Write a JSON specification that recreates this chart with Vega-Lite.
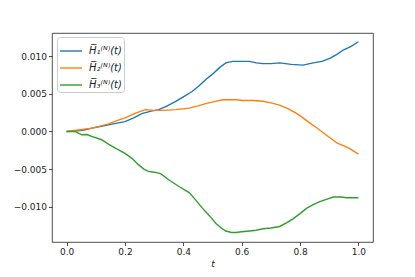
{
  "$schema": "https://vega.github.io/schema/vega-lite/v6.json",
  "autosize": "none",
  "width": 321,
  "height": 209,
  "padding": {"left": 52, "top": 33, "right": 42, "bottom": 35},
  "background": "white",
  "config": {
    "view": {"stroke": "#222222", "strokeWidth": 0.8},
    "font": "DejaVu Sans",
    "axis": {
      "grid": false,
      "domain": false,
      "tickColor": "#222222",
      "tickSize": 3.5,
      "tickWidth": 0.8,
      "labelFont": "DejaVu Sans",
      "labelFontSize": 9,
      "labelColor": "#222222",
      "labelPadding": 2
    }
  },
  "datasets": {
    "curves": [
      {"t": 0, "v": 0, "s": "H̅₁⁽ᴺ⁾(t)"},
      {"t": 0.03, "v": 0.00005, "s": "H̅₁⁽ᴺ⁾(t)"},
      {"t": 0.06, "v": 0.0002, "s": "H̅₁⁽ᴺ⁾(t)"},
      {"t": 0.087, "v": 0.00045, "s": "H̅₁⁽ᴺ⁾(t)"},
      {"t": 0.12, "v": 0.0007, "s": "H̅₁⁽ᴺ⁾(t)"},
      {"t": 0.16, "v": 0.001, "s": "H̅₁⁽ᴺ⁾(t)"},
      {"t": 0.2, "v": 0.0013, "s": "H̅₁⁽ᴺ⁾(t)"},
      {"t": 0.23, "v": 0.0018, "s": "H̅₁⁽ᴺ⁾(t)"},
      {"t": 0.26, "v": 0.0024, "s": "H̅₁⁽ᴺ⁾(t)"},
      {"t": 0.29, "v": 0.0027, "s": "H̅₁⁽ᴺ⁾(t)"},
      {"t": 0.316, "v": 0.0029, "s": "H̅₁⁽ᴺ⁾(t)"},
      {"t": 0.345, "v": 0.0034, "s": "H̅₁⁽ᴺ⁾(t)"},
      {"t": 0.374, "v": 0.004, "s": "H̅₁⁽ᴺ⁾(t)"},
      {"t": 0.4, "v": 0.0046, "s": "H̅₁⁽ᴺ⁾(t)"},
      {"t": 0.43, "v": 0.0053, "s": "H̅₁⁽ᴺ⁾(t)"},
      {"t": 0.455, "v": 0.0061, "s": "H̅₁⁽ᴺ⁾(t)"},
      {"t": 0.477, "v": 0.0069, "s": "H̅₁⁽ᴺ⁾(t)"},
      {"t": 0.5, "v": 0.0076, "s": "H̅₁⁽ᴺ⁾(t)"},
      {"t": 0.525, "v": 0.0085, "s": "H̅₁⁽ᴺ⁾(t)"},
      {"t": 0.546, "v": 0.0091, "s": "H̅₁⁽ᴺ⁾(t)"},
      {"t": 0.569, "v": 0.0093, "s": "H̅₁⁽ᴺ⁾(t)"},
      {"t": 0.6, "v": 0.0093, "s": "H̅₁⁽ᴺ⁾(t)"},
      {"t": 0.627, "v": 0.0093, "s": "H̅₁⁽ᴺ⁾(t)"},
      {"t": 0.65, "v": 0.0091, "s": "H̅₁⁽ᴺ⁾(t)"},
      {"t": 0.673, "v": 0.009, "s": "H̅₁⁽ᴺ⁾(t)"},
      {"t": 0.7, "v": 0.009, "s": "H̅₁⁽ᴺ⁾(t)"},
      {"t": 0.73, "v": 0.0091, "s": "H̅₁⁽ᴺ⁾(t)"},
      {"t": 0.77, "v": 0.0089, "s": "H̅₁⁽ᴺ⁾(t)"},
      {"t": 0.81, "v": 0.0088, "s": "H̅₁⁽ᴺ⁾(t)"},
      {"t": 0.845, "v": 0.0091, "s": "H̅₁⁽ᴺ⁾(t)"},
      {"t": 0.875, "v": 0.0093, "s": "H̅₁⁽ᴺ⁾(t)"},
      {"t": 0.902, "v": 0.0097, "s": "H̅₁⁽ᴺ⁾(t)"},
      {"t": 0.925, "v": 0.0102, "s": "H̅₁⁽ᴺ⁾(t)"},
      {"t": 0.948, "v": 0.0108, "s": "H̅₁⁽ᴺ⁾(t)"},
      {"t": 0.975, "v": 0.0113, "s": "H̅₁⁽ᴺ⁾(t)"},
      {"t": 1.0, "v": 0.0119, "s": "H̅₁⁽ᴺ⁾(t)"},
      {"t": 0, "v": 0, "s": "H̅₂⁽ᴺ⁾(t)"},
      {"t": 0.04, "v": 0.0002, "s": "H̅₂⁽ᴺ⁾(t)"},
      {"t": 0.087, "v": 0.00045, "s": "H̅₂⁽ᴺ⁾(t)"},
      {"t": 0.115, "v": 0.0007, "s": "H̅₂⁽ᴺ⁾(t)"},
      {"t": 0.144, "v": 0.001, "s": "H̅₂⁽ᴺ⁾(t)"},
      {"t": 0.17, "v": 0.0014, "s": "H̅₂⁽ᴺ⁾(t)"},
      {"t": 0.2, "v": 0.0018, "s": "H̅₂⁽ᴺ⁾(t)"},
      {"t": 0.235, "v": 0.0024, "s": "H̅₂⁽ᴺ⁾(t)"},
      {"t": 0.27, "v": 0.0029, "s": "H̅₂⁽ᴺ⁾(t)"},
      {"t": 0.3, "v": 0.0028, "s": "H̅₂⁽ᴺ⁾(t)"},
      {"t": 0.33, "v": 0.0028, "s": "H̅₂⁽ᴺ⁾(t)"},
      {"t": 0.374, "v": 0.0029, "s": "H̅₂⁽ᴺ⁾(t)"},
      {"t": 0.42, "v": 0.0031, "s": "H̅₂⁽ᴺ⁾(t)"},
      {"t": 0.45, "v": 0.0034, "s": "H̅₂⁽ᴺ⁾(t)"},
      {"t": 0.477, "v": 0.0037, "s": "H̅₂⁽ᴺ⁾(t)"},
      {"t": 0.51, "v": 0.004, "s": "H̅₂⁽ᴺ⁾(t)"},
      {"t": 0.535, "v": 0.0042, "s": "H̅₂⁽ᴺ⁾(t)"},
      {"t": 0.58, "v": 0.0042, "s": "H̅₂⁽ᴺ⁾(t)"},
      {"t": 0.603, "v": 0.0041, "s": "H̅₂⁽ᴺ⁾(t)"},
      {"t": 0.64, "v": 0.0041, "s": "H̅₂⁽ᴺ⁾(t)"},
      {"t": 0.673, "v": 0.004, "s": "H̅₂⁽ᴺ⁾(t)"},
      {"t": 0.7, "v": 0.0038, "s": "H̅₂⁽ᴺ⁾(t)"},
      {"t": 0.73, "v": 0.0035, "s": "H̅₂⁽ᴺ⁾(t)"},
      {"t": 0.76, "v": 0.003, "s": "H̅₂⁽ᴺ⁾(t)"},
      {"t": 0.788, "v": 0.0024, "s": "H̅₂⁽ᴺ⁾(t)"},
      {"t": 0.81, "v": 0.0018, "s": "H̅₂⁽ᴺ⁾(t)"},
      {"t": 0.834, "v": 0.0011, "s": "H̅₂⁽ᴺ⁾(t)"},
      {"t": 0.857, "v": 0.0005, "s": "H̅₂⁽ᴺ⁾(t)"},
      {"t": 0.88, "v": -0.0002, "s": "H̅₂⁽ᴺ⁾(t)"},
      {"t": 0.905, "v": -0.0009, "s": "H̅₂⁽ᴺ⁾(t)"},
      {"t": 0.926, "v": -0.0015, "s": "H̅₂⁽ᴺ⁾(t)"},
      {"t": 0.95, "v": -0.0019, "s": "H̅₂⁽ᴺ⁾(t)"},
      {"t": 0.972, "v": -0.0023, "s": "H̅₂⁽ᴺ⁾(t)"},
      {"t": 1.0, "v": -0.003, "s": "H̅₂⁽ᴺ⁾(t)"},
      {"t": 0, "v": 0, "s": "H̅₃⁽ᴺ⁾(t)"},
      {"t": 0.029, "v": 0, "s": "H̅₃⁽ᴺ⁾(t)"},
      {"t": 0.052, "v": -0.00044, "s": "H̅₃⁽ᴺ⁾(t)"},
      {"t": 0.07, "v": -0.0004, "s": "H̅₃⁽ᴺ⁾(t)"},
      {"t": 0.086, "v": -0.00066, "s": "H̅₃⁽ᴺ⁾(t)"},
      {"t": 0.12, "v": -0.0011, "s": "H̅₃⁽ᴺ⁾(t)"},
      {"t": 0.145, "v": -0.0017, "s": "H̅₃⁽ᴺ⁾(t)"},
      {"t": 0.167, "v": -0.0022, "s": "H̅₃⁽ᴺ⁾(t)"},
      {"t": 0.2, "v": -0.0029, "s": "H̅₃⁽ᴺ⁾(t)"},
      {"t": 0.225, "v": -0.0036, "s": "H̅₃⁽ᴺ⁾(t)"},
      {"t": 0.246, "v": -0.0044, "s": "H̅₃⁽ᴺ⁾(t)"},
      {"t": 0.265, "v": -0.005, "s": "H̅₃⁽ᴺ⁾(t)"},
      {"t": 0.28, "v": -0.0053, "s": "H̅₃⁽ᴺ⁾(t)"},
      {"t": 0.3, "v": -0.0054, "s": "H̅₃⁽ᴺ⁾(t)"},
      {"t": 0.322, "v": -0.0056, "s": "H̅₃⁽ᴺ⁾(t)"},
      {"t": 0.35, "v": -0.0064, "s": "H̅₃⁽ᴺ⁾(t)"},
      {"t": 0.385, "v": -0.0073, "s": "H̅₃⁽ᴺ⁾(t)"},
      {"t": 0.42, "v": -0.0081, "s": "H̅₃⁽ᴺ⁾(t)"},
      {"t": 0.445, "v": -0.0092, "s": "H̅₃⁽ᴺ⁾(t)"},
      {"t": 0.466, "v": -0.0102, "s": "H̅₃⁽ᴺ⁾(t)"},
      {"t": 0.49, "v": -0.0112, "s": "H̅₃⁽ᴺ⁾(t)"},
      {"t": 0.512, "v": -0.0122, "s": "H̅₃⁽ᴺ⁾(t)"},
      {"t": 0.53, "v": -0.0128, "s": "H̅₃⁽ᴺ⁾(t)"},
      {"t": 0.546, "v": -0.0132, "s": "H̅₃⁽ᴺ⁾(t)"},
      {"t": 0.565, "v": -0.0134, "s": "H̅₃⁽ᴺ⁾(t)"},
      {"t": 0.58, "v": -0.0134, "s": "H̅₃⁽ᴺ⁾(t)"},
      {"t": 0.6, "v": -0.0133, "s": "H̅₃⁽ᴺ⁾(t)"},
      {"t": 0.627, "v": -0.0132, "s": "H̅₃⁽ᴺ⁾(t)"},
      {"t": 0.65, "v": -0.0131, "s": "H̅₃⁽ᴺ⁾(t)"},
      {"t": 0.673, "v": -0.0129, "s": "H̅₃⁽ᴺ⁾(t)"},
      {"t": 0.7, "v": -0.0128, "s": "H̅₃⁽ᴺ⁾(t)"},
      {"t": 0.73, "v": -0.0126, "s": "H̅₃⁽ᴺ⁾(t)"},
      {"t": 0.755, "v": -0.0121, "s": "H̅₃⁽ᴺ⁾(t)"},
      {"t": 0.776, "v": -0.0116, "s": "H̅₃⁽ᴺ⁾(t)"},
      {"t": 0.8, "v": -0.0109, "s": "H̅₃⁽ᴺ⁾(t)"},
      {"t": 0.822, "v": -0.0102, "s": "H̅₃⁽ᴺ⁾(t)"},
      {"t": 0.845, "v": -0.0097, "s": "H̅₃⁽ᴺ⁾(t)"},
      {"t": 0.868, "v": -0.0093, "s": "H̅₃⁽ᴺ⁾(t)"},
      {"t": 0.89, "v": -0.009, "s": "H̅₃⁽ᴺ⁾(t)"},
      {"t": 0.914, "v": -0.0087, "s": "H̅₃⁽ᴺ⁾(t)"},
      {"t": 0.94, "v": -0.0087, "s": "H̅₃⁽ᴺ⁾(t)"},
      {"t": 0.96, "v": -0.0088, "s": "H̅₃⁽ᴺ⁾(t)"},
      {"t": 1.0, "v": -0.0088, "s": "H̅₃⁽ᴺ⁾(t)"}
    ]
  },
  "data": {"name": "curves"},
  "mark": {"type": "line", "strokeWidth": 1.4, "clip": true},
  "encoding": {
    "x": {
      "field": "t",
      "type": "quantitative",
      "scale": {"domain": [-0.05, 1.05], "nice": false, "zero": false},
      "axis": {
        "values": [0, 0.2, 0.4, 0.6, 0.8, 1.0],
        "format": ".1f",
        "title": "t",
        "titleFont": "DejaVu Sans",
        "titleFontStyle": "italic",
        "titleFontWeight": "normal",
        "titleFontSize": 9,
        "titleColor": "#222222",
        "titlePadding": 3
      }
    },
    "y": {
      "field": "v",
      "type": "quantitative",
      "scale": {"domain": [-0.01466, 0.01306], "nice": false, "zero": false},
      "axis": {
        "values": [-0.01, -0.005, 0, 0.005, 0.01],
        "format": ".3f",
        "title": null
      }
    },
    "color": {
      "field": "s",
      "type": "nominal",
      "scale": {
        "domain": ["H̅₁⁽ᴺ⁾(t)", "H̅₂⁽ᴺ⁾(t)", "H̅₃⁽ᴺ⁾(t)"],
        "range": ["#1f77b4", "#ff7f0e", "#2ca02c"]
      },
      "legend": {
        "title": null,
        "orient": "none",
        "legendX": 5,
        "legendY": 4,
        "symbolType": "stroke",
        "symbolSize": 484,
        "symbolStrokeWidth": 1.4,
        "labelFont": "DejaVu Sans",
        "labelFontStyle": "italic",
        "labelFontSize": 10,
        "labelColor": "#222222",
        "labelOffset": 6,
        "rowPadding": -1,
        "padding": 2,
        "fillColor": "rgba(255,255,255,0.8)",
        "strokeColor": "#cccccc",
        "cornerRadius": 3
      }
    }
  }
}
